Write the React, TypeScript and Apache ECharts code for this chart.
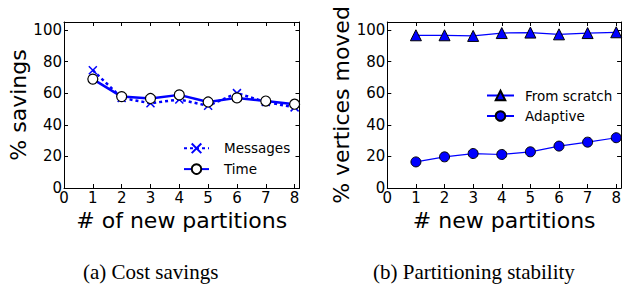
import React, { useEffect, useRef } from "react";
import * as echarts from "echarts";

const xValues = [1, 2, 3, 4, 5, 6, 7, 8];
const messagesSavings = [74.5, 57, 53.6, 56, 52, 60, 54.4, 51];
const timeSavings = [68.9, 57.8, 56.6, 58.9, 54.4, 57, 55, 53];
const fromScratchMoved = [96.6, 96.6, 96.2, 98, 98.3, 97.2, 98, 98.5];
const adaptiveMoved = [16.5, 19.7, 21.8, 21.2, 22.9, 26.5, 29, 31.8];
const captions = ["(a) Cost savings", "(b) Partitioning stability"];
const xNames = ["# of new partitions", "# new partitions"];
const yNames = ["% savings", "% vertices moved"];

const BLUE = "#0000ff";
const FONT = "DejaVu Sans";

const pairs = (ys: number[]) => xValues.map((x, i) => [x, ys[i]]);

function xAxisFor(grid: number, top: boolean, name: string) {
  return {
    type: "value",
    gridIndex: grid,
    position: top ? "top" : "bottom",
    min: 0,
    max: 8.17,
    interval: 1,
    name: top ? "" : name,
    nameLocation: "middle",
    nameGap: 21,
    nameTextStyle: { fontFamily: FONT, fontSize: 22, color: "#000" },
    axisLine: { show: true, onZero: false, lineStyle: { color: "#000", width: 1 } },
    axisTick: { show: true, inside: true, length: 4, lineStyle: { color: "#000" } },
    axisLabel: {
      show: !top,
      margin: 2,
      fontFamily: FONT,
      fontSize: 15,
      color: "#000",
      showMaxLabel: false,
    },
    splitLine: { show: false },
  };
}

function yAxisFor(grid: number, right: boolean, name: string) {
  return {
    type: "value",
    gridIndex: grid,
    position: right ? "right" : "left",
    min: 0,
    max: 105,
    interval: 20,
    name: right ? "" : name,
    nameLocation: "middle",
    nameGap: 35,
    nameTextStyle: { fontFamily: FONT, fontSize: 22, color: "#000" },
    axisLine: { show: true, onZero: false, lineStyle: { color: "#000", width: 1 } },
    axisTick: { show: true, inside: true, length: 4, lineStyle: { color: "#000" } },
    axisLabel: {
      show: !right,
      margin: 2,
      fontFamily: FONT,
      fontSize: 15,
      color: "#000",
      showMaxLabel: false,
    },
    splitLine: { show: false },
  };
}

export default function App() {
  const ref = useRef<HTMLDivElement>(null);
  useEffect(() => {
    if (!ref.current) return;
    const chart = echarts.init(ref.current, undefined, { renderer: "svg" });
    chart.setOption({
      animation: false,
      backgroundColor: "#fff",
      grid: [
        { left: 64, top: 22, width: 235.5, height: 166 },
        { left: 387.3, top: 22, width: 235, height: 166 },
      ],
      xAxis: [
        xAxisFor(0, false, xNames[0]),
        xAxisFor(0, true, ""),
        xAxisFor(1, false, xNames[1]),
        xAxisFor(1, true, ""),
      ],
      yAxis: [
        yAxisFor(0, false, yNames[0]),
        yAxisFor(0, true, ""),
        yAxisFor(1, false, yNames[1]),
        yAxisFor(1, true, ""),
      ],
      legend: [
        {
          left: 183,
          top: 141,
          orient: "vertical",
          padding: 0,
          itemWidth: 25,
          itemHeight: 12,
          itemGap: 6.5,
          data: ["Messages", "Time"],
          textStyle: { fontFamily: FONT, fontSize: 13.5, color: "#000", padding: [0, 0, 0, 10] },
        },
        {
          left: 486,
          top: 88.5,
          orient: "vertical",
          padding: 0,
          itemWidth: 27,
          itemHeight: 12,
          itemGap: 6.5,
          data: ["From scratch", "Adaptive"],
          textStyle: { fontFamily: FONT, fontSize: 13.5, color: "#000", padding: [0, 0, 0, 6] },
        },
      ],
      series: [
        {
          name: "Messages",
          type: "line",
          xAxisIndex: 0,
          yAxisIndex: 0,
          data: pairs(messagesSavings),
          symbol: "path://M0,0L10,10M10,0L0,10",
          symbolSize: 8,
          lineStyle: { color: BLUE, width: 2.5, type: [3, 3] },
          itemStyle: { color: "none", borderColor: BLUE, borderWidth: 1.5 },
          z: 2,
        },
        {
          name: "Time",
          type: "line",
          xAxisIndex: 0,
          yAxisIndex: 0,
          data: pairs(timeSavings),
          symbol: "circle",
          symbolSize: 10,
          lineStyle: { color: BLUE, width: 2.5 },
          itemStyle: { color: "#fff", borderColor: "#000", borderWidth: 1.2 },
          z: 3,
        },
        {
          name: "From scratch",
          type: "line",
          xAxisIndex: 2,
          yAxisIndex: 2,
          data: pairs(fromScratchMoved),
          symbol: "triangle",
          symbolSize: 11,
          lineStyle: { color: BLUE, width: 1.2 },
          itemStyle: { color: BLUE, borderColor: "#000", borderWidth: 1 },
        },
        {
          name: "Adaptive",
          type: "line",
          xAxisIndex: 2,
          yAxisIndex: 2,
          data: pairs(adaptiveMoved),
          symbol: "circle",
          symbolSize: 10,
          lineStyle: { color: BLUE, width: 1.2 },
          itemStyle: { color: BLUE, borderColor: "#000", borderWidth: 1 },
        },
      ],
      graphic: [
        {
          type: "text",
          left: 83,
          top: 261,
          style: { text: captions[0], fontFamily: "Liberation Serif", fontSize: 21, fill: "#000" },
        },
        {
          type: "text",
          left: 373,
          top: 261,
          style: { text: captions[1], fontFamily: "Liberation Serif", fontSize: 21, fill: "#000" },
        },
      ],
    });
    return () => chart.dispose();
  }, []);
  return (
    <div
      ref={ref}
      style={{ position: "absolute", left: 0, top: 0, width: 624, height: 286 }}
    />
  );
}
